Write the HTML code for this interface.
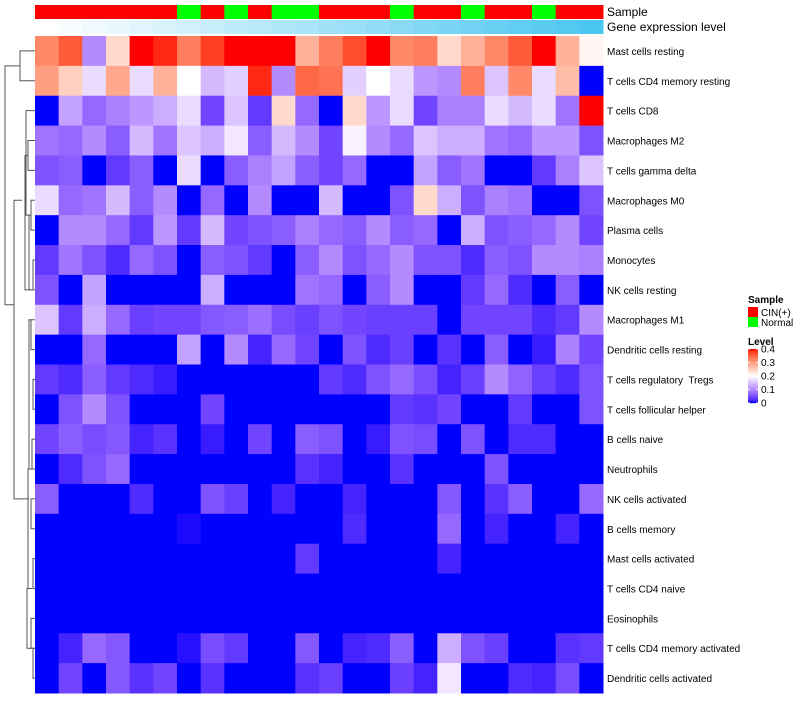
<!DOCTYPE html>
<html><head><meta charset="utf-8">
<style>
body{margin:0;background:#fff;font-family:"Liberation Sans",sans-serif;}
svg text{font-family:"Liberation Sans",sans-serif;white-space:pre;}
</style></head>
<body>
<svg id="chart" width="800" height="700" xmlns="http://www.w3.org/2000/svg">
<g id="dendro" stroke="#555" stroke-width="1" fill="none"></g>
<g id="cells"></g>
<g id="annot"></g>
<g id="labels"></g>
<g id="legend"></g>
</svg>
<script>
const rowNames=["Mast cells resting","T cells CD4 memory resting","T cells CD8","Macrophages M2","T cells gamma delta","Macrophages M0","Plasma cells","Monocytes","NK cells resting","Macrophages M1","Dendritic cells resting","T cells regulatory  Tregs","T cells follicular helper","B cells naive","Neutrophils","NK cells activated","B cells memory","Mast cells activated","T cells CD4 naive","Eosinophils","T cells CD4 memory activated","Dendritic cells activated"];
const sampleGroups=["CIN","CIN","CIN","CIN","CIN","CIN","N","CIN","N","CIN","N","N","CIN","CIN","CIN","N","CIN","CIN","N","CIN","CIN","N","CIN","CIN"];
const values=[
[.32,.36,.1,.24,.4,.39,.33,.38,.4,.4,.4,.28,.33,.37,.4,.32,.33,.24,.28,.32,.36,.4,.28,.21],
[.3,.25,.17,.29,.17,.28,.2,.14,.16,.39,.1,.35,.34,.16,.2,.17,.11,.1,.33,.15,.32,.17,.27,0],
[0,.12,.07,.09,.11,.13,.17,.04,.15,.03,.24,.07,0,.24,.11,.17,.04,.09,.09,.17,.14,.17,.08,.4],
[.08,.07,.1,.06,.14,.08,.15,.13,.18,.06,.14,.1,.04,.19,.1,.07,.15,.13,.13,.08,.07,.11,.11,.05],
[.05,.06,0,.03,.06,0,.17,0,.06,.09,.12,.06,.04,.07,0,0,.12,.06,.08,0,0,.03,.09,.15],
[.17,.07,.08,.14,.06,.1,0,.07,0,.1,0,0,.14,0,0,.05,.24,.13,.05,.09,.08,0,0,.05],
[0,.1,.1,.07,.03,.11,.03,.14,.04,.05,.06,.09,.07,.06,.1,.06,.07,0,.13,.05,.06,.07,.1,.04],
[.03,.08,.05,.02,.07,.05,0,.06,.05,.03,0,.06,.1,.05,.07,.1,.05,.05,.02,.06,.05,.1,.1,.09],
[.05,0,.12,0,0,0,0,.13,0,0,0,.08,.07,0,.06,.1,0,0,.03,.07,.02,0,.06,0],
[.15,.03,.13,.07,.035,.04,.04,.055,.06,.075,.045,.035,.05,.04,.035,.035,.035,0,.04,.04,.04,.02,.03,.1],
[0,0,.07,0,0,0,.12,0,.1,.015,.07,.04,0,.05,.02,.035,0,.025,0,.06,0,.01,.09,.04],
[.03,.02,.06,.03,.02,.01,0,0,0,0,0,0,.03,.02,.05,.07,.045,.015,.035,.1,.065,.035,.02,.05],
[0,.05,.1,.05,0,0,0,.04,0,0,0,0,0,0,0,.03,.025,.04,0,0,.03,0,0,.05],
[.04,.06,.045,.055,.015,.025,0,.01,0,.04,0,.06,.05,0,.01,.05,.045,0,.05,0,.02,.02,0,0],
[0,.02,.05,.07,0,0,0,0,0,0,0,.025,.015,0,0,.025,0,0,0,.05,0,0,0,0],
[.06,0,0,0,.02,0,0,.05,.035,0,.015,0,0,.015,0,0,0,.055,0,.025,.06,0,0,.07],
[0,0,0,0,0,0,.003,0,0,0,0,0,0,.02,0,0,0,.07,0,.015,0,0,.015,0],
[0,0,0,0,0,0,0,0,0,0,0,.03,0,0,0,0,0,.015,0,0,0,0,0,0],
[0,0,0,0,0,0,0,0,0,0,0,0,0,0,0,0,0,0,0,0,0,0,0,0],
[0,0,0,0,0,0,0,0,0,0,0,0,0,0,0,0,0,0,0,0,0,0,0,0],
[0,.015,.07,.055,0,0,.005,.045,.03,0,0,.055,0,.015,.02,.06,0,.13,.05,.035,0,0,.025,.03],
[0,.04,0,.055,.025,.04,0,.025,0,0,0,.025,.035,0,0,.035,.015,.18,0,0,.02,.015,.045,0]
];
const legendTicks=[0,0.1,0.2,0.3,0.4];
const NS="http://www.w3.org/2000/svg";
function mk(t,a,p){const e=document.createElementNS(NS,t);for(const k in a)e.setAttribute(k,a[k]);p.appendChild(e);return e;}
function toLin(c){c/=255;return c<=0.04045?c/12.92:Math.pow((c+0.055)/1.055,2.4);}
function fromLin(c){c=c<=0.0031308?12.92*c:1.055*Math.pow(c,1/2.4)-0.055;return Math.max(0,Math.min(255,Math.round(c*255)));}
function rgb2lab(r,g,b){r=toLin(r);g=toLin(g);b=toLin(b);let x=(r*.4124+g*.3576+b*.1805)/.95047,y=r*.2126+g*.7152+b*.0722,z=(r*.0193+g*.1192+b*.9505)/1.08883;const f=t=>t>0.008856?Math.cbrt(t):7.787*t+16/116;x=f(x);y=f(y);z=f(z);return[116*y-16,500*(x-y),200*(y-z)];}
function lab2rgb(L,a,bb){let y=(L+16)/116,x=a/500+y,z=y-bb/200;const f=t=>t*t*t>0.008856?t*t*t:(t-16/116)/7.787;x=f(x)*.95047;y=f(y);z=f(z)*1.08883;const r=x*3.2406+y*-1.5372+z*-.4986,g=x*-.9689+y*1.8758+z*.0415,b=x*.0557+y*-.204+z*1.057;return"rgb("+fromLin(r)+","+fromLin(g)+","+fromLin(b)+")";}
const cBlue=rgb2lab(0,0,255),cWhite=rgb2lab(255,255,255),cRed=rgb2lab(255,0,0);
function color(v){v=Math.max(0,Math.min(0.4,v));let A,B,t;if(v<=0.2){A=cBlue;B=cWhite;t=v/0.2;}else{A=cWhite;B=cRed;t=(v-0.2)/0.2;}return lab2rgb(A[0]+(B[0]-A[0])*t,A[1]+(B[1]-A[1])*t,A[2]+(B[2]-A[2])*t);}
const X0=35,X1=603,Y0=36,Y1=693;
const nC=values[0].length,nR=values.length;
const cw=(X1-X0)/nC,rh=(Y1-Y0)/nR;
const xPos=j=>X0+j*cw, yPos=i=>Y0+i*rh;
const cells=document.getElementById('cells');
values.forEach((row,i)=>row.forEach((v,j)=>{
 const r=mk('rect',{x:xPos(j),y:yPos(i),width:cw+0.5,height:rh+0.5,fill:color(v)},cells);
 
 
}));
const annot=document.getElementById('annot');
sampleGroups.forEach((g,j)=>{
 const r=mk('rect',{x:xPos(j),y:5,width:cw+0.5,height:14,fill:g==="CIN"?"#ff0000":"#00ff00"},annot);
 
 
 const t=j/(nC-1);
 const gr=mk('rect',{x:xPos(j),y:20,width:cw+0.5,height:14,fill:`rgb(${Math.round(255-(255-75)*t)},${Math.round(255-(255-198)*t)},${Math.round(255-(255-240)*t)})`},annot);
 
 
});
let t1=mk('text',{x:607,y:16,'font-size':12,fill:'#000'},annot);t1.textContent="Sample";

let t2=mk('text',{x:607,y:31,'font-size':12,fill:'#000'},annot);t2.textContent="Gene expression level";

const labels=document.getElementById('labels');
rowNames.forEach((n,i)=>{
 const t=mk('text',{x:607,y:yPos(i)+rh/2+4,'font-size':10,fill:'#000'},labels);
 t.textContent=n;
 
 
});
const d=document.getElementById('dendro');
const yc=i=>yPos(i)+rh/2;
function br(xa,ya,xb,yb,xj){return `M${xa},${ya}H${xj}V${yb}H${xb}`;}
const paths=[
 br(35,yc(0),35,yc(1),20),
 br(20,(yc(0)+yc(1))/2,14,(yc(2)+yc(15))/2,5),
 br(35,yc(2),30,(yc(3)+yc(8))/2,26),
 br(35,yc(3),35,yc(4),28),
 br(28,(yc(3)+yc(4))/2,31,yc(8),25),
 br(35,yc(5),35,yc(6),31),
 br(31,(yc(5)+yc(6))/2,33,yc(8),29),
 br(35,yc(7),35,yc(8),33),
 br(22,(yc(2)+yc(8))/2,29,(yc(9)+yc(21))/2,14),
 br(35,yc(9),35,yc(10),31),
 br(31,yc(9),32,yc(14),29),
 br(35,yc(11),35,yc(12),33),
 br(35,yc(13),35,yc(14),32),
 br(29,yc(14),32,yc(18),28),
 br(35,yc(15),35,yc(16),31),
 br(35,yc(17),35,yc(18),33),
 br(35,yc(19),35,yc(20),31),
 br(28,yc(18),32,yc(20),27),
 br(35,yc(20),35,yc(21),33)
];
paths.forEach(p=>{const e=mk('path',{d:p},d);});
const lg=document.getElementById('legend');
let lt=mk('text',{x:748,y:303,'font-size':10,'font-weight':'bold'},lg);lt.textContent="Sample";

[["CIN(+)","#ff0000"],["Normal","#00ff00"]].forEach((e,k)=>{
 const r=mk('rect',{x:748,y:307+k*10,width:10,height:10,fill:e[1]},lg);
 
 const t=mk('text',{x:761,y:316+k*10,'font-size':10},lg);t.textContent=e[0];
 
});
let lv=mk('text',{x:748,y:345,'font-size':10,'font-weight':'bold'},lg);lv.textContent="Level";

const LB0=349,LB1=403;
for(let k=0;k<54;k++){const v=0.4*(1-k/53);const r=mk('rect',{x:748,y:LB0+k,width:10,height:1.2,fill:color(v)},lg);}
legendTicks.forEach(v=>{
 const y=LB1-(v/0.4)*(LB1-LB0);
 const l=mk('line',{x1:748,x2:750,y1:y,y2:y,stroke:'#fff'},lg);
 const l2=mk('line',{x1:756,x2:758,y1:y,y2:y,stroke:'#fff'},lg);
 const t=mk('text',{x:761,y:y+3.5,'font-size':10},lg);t.textContent=String(v);
 
});
</script>
</body></html>
